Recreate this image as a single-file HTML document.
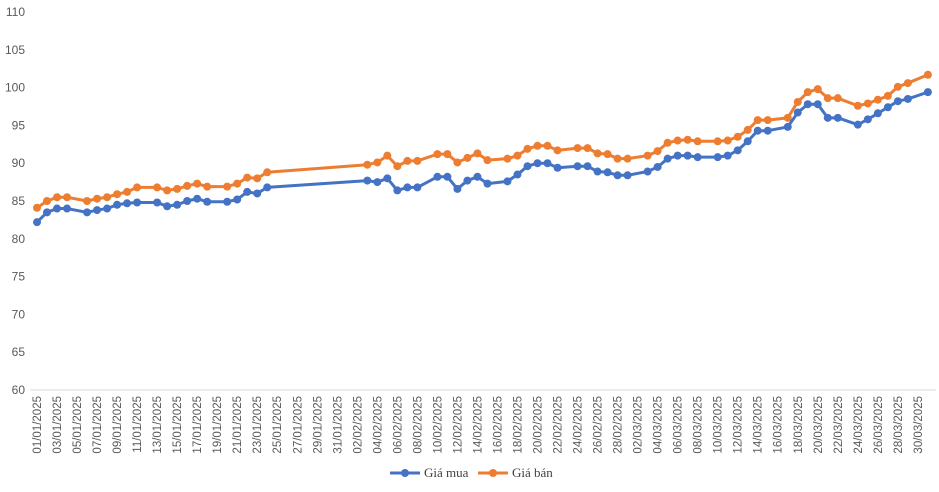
<!DOCTYPE html>
<html><head><meta charset="utf-8"><style>
body{margin:0;background:#fff;font-family:"Liberation Sans",sans-serif;}
svg text{font-family:"Liberation Sans",sans-serif;fill:#595959;}
svg text.leg{font-family:"Liberation Serif",serif;fill:#404040;}
</style></head><body>
<svg width="939" height="487" viewBox="0 0 939 487">
<g id="yaxis"></g>
<g id="xaxis"></g>
<g id="series"></g>
<g>
<g><line x1="390" y1="473" x2="420" y2="473" stroke="#4472C4" stroke-width="3"/><circle cx="405" cy="473" r="4" fill="#4472C4"/><text class="leg" x="424" y="477" font-size="13">Giá mua</text></g>
<g><line x1="478" y1="473" x2="508" y2="473" stroke="#ED7D31" stroke-width="3"/><circle cx="493" cy="473" r="4" fill="#ED7D31"/><text class="leg" x="512" y="477" font-size="13">Giá bán</text></g>
</g>
</svg>
<script>
const days=[0,1,2,3,5,6,7,8,9,10,12,13,14,15,16,17,19,20,21,22,23,33,34,35,36,37,38,40,41,42,43,44,45,47,48,49,50,51,52,54,55,56,57,58,59,61,62,63,64,65,66,68,69,70,71,72,73,75,76,77,78,79,80,82,83,84,85,86,87,89];
const buy=[82.2,83.5,84.0,84.0,83.5,83.8,84.0,84.5,84.7,84.8,84.8,84.3,84.5,85.0,85.3,84.9,84.9,85.2,86.2,86.0,86.8,87.7,87.5,88.0,86.4,86.8,86.8,88.2,88.2,86.6,87.7,88.2,87.3,87.6,88.5,89.6,90.0,90.0,89.4,89.6,89.6,88.9,88.8,88.4,88.4,88.9,89.5,90.6,91.0,91.0,90.8,90.8,91.0,91.7,92.9,94.3,94.3,94.8,96.7,97.8,97.8,96.0,96.0,95.1,95.8,96.6,97.4,98.2,98.5,99.4];
const sell=[84.1,85.0,85.5,85.5,85.0,85.3,85.5,85.9,86.2,86.8,86.8,86.4,86.6,87.0,87.3,86.9,86.9,87.3,88.1,88.0,88.8,89.8,90.1,91.0,89.6,90.3,90.3,91.2,91.2,90.1,90.7,91.3,90.4,90.6,91.0,91.9,92.3,92.3,91.7,92.0,92.0,91.3,91.2,90.6,90.6,91.0,91.6,92.7,93.0,93.1,92.9,92.9,93.0,93.5,94.4,95.7,95.7,96.0,98.1,99.4,99.8,98.6,98.6,97.6,97.9,98.4,98.9,100.1,100.6,101.7];
const yTicks=[60,65,70,75,80,85,90,95,100,105,110];
const NS="http://www.w3.org/2000/svg";
const X=d=>37+d*10.01;
const Y=v=>390-(v-60)*7.56;
const ya=document.getElementById('yaxis'),xa=document.getElementById('xaxis'),sg=document.getElementById('series');
function mk(tag,at,parent){const e=document.createElementNS(NS,tag);for(const k in at)e.setAttribute(k,at[k]);parent.appendChild(e);return e;}
yTicks.forEach(v=>{const t=mk('text',{x:25,y:Y(v)+4,'text-anchor':'end','font-size':'12'},ya);


t.textContent=v;});
const ax=mk('line',{x1:30,y1:390,x2:936,y2:390,stroke:'#d9d9d9','stroke-width':1},xa);


for(let d=0;d<=88;d+=2){const dt=new Date(Date.UTC(2025,0,1+d));
const lbl=String(dt.getUTCDate()).padStart(2,'0')+'/'+String(dt.getUTCMonth()+1).padStart(2,'0')+'/2025';
const x=X(d)+4;const t=mk('text',{x:x,y:396,'text-anchor':'end','font-size':'11.5',transform:`rotate(-90 ${x} 396)`},xa);


t.textContent=lbl;}
function draw(vals,color,name){const p=mk('polyline',{points:days.map((d,i)=>X(d)+','+Y(vals[i])).join(' '),fill:'none',stroke:color,'stroke-width':3,'stroke-linejoin':'round'},sg);


days.forEach((d,i)=>{const c=mk('circle',{cx:X(d),cy:Y(vals[i]),r:4,fill:color},sg);

});}
draw(sell,'#ED7D31','sell');
draw(buy,'#4472C4','buy');
</script>
</body></html>
